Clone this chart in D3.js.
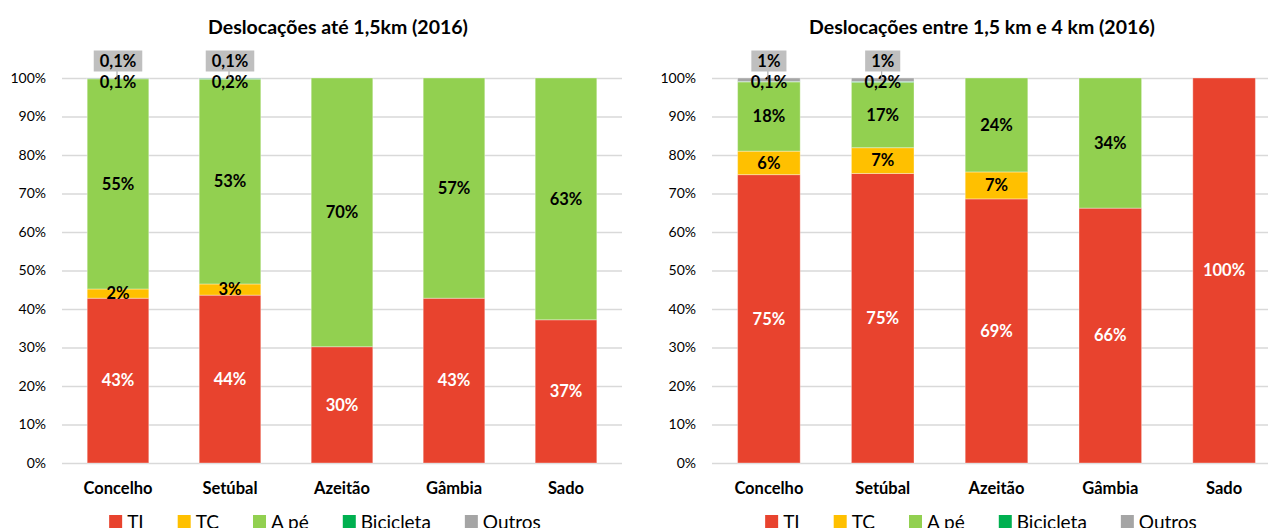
<!DOCTYPE html>
<meta charset="utf-8">
<head>
  <meta charset="utf-8">
  <script src="https://d3js.org/d3.v7.min.js"></script>
  <style>
    body { margin: 0; background: #fff; }
    svg text { font-family: Lato, "Open Sans", sans-serif; }
  </style>
</head>
<body>
  <svg width="1268" height="528"></svg>
  <script>
    // categories and series
    var categories = ["Concelho", "Setúbal", "Azeitão", "Gâmbia", "Sado"];
    var seriesNames = ["TI", "TC", "A pé", "Bicicleta", "Outros"];
    var seriesColors = ["#e8432e", "#ffc000", "#92d050", "#00b050", "#a5a5a5"];
    var yTicks = [0, 10, 20, 30, 40, 50, 60, 70, 80, 90, 100];

    // Deslocações até 1,5km (2016) - % of trips
    var ti1 = [42.8, 43.6, 30.2, 42.8, 37.2];
    var tc1 = [2.4, 2.9, 0, 0, 0];
    var ape1 = [54.6, 53.2, 69.8, 57.2, 62.8];
    var bic1 = [0.1, 0.2, 0, 0, 0];
    var outros1 = [0.1, 0.1, 0, 0, 0];

    // Deslocações entre 1,5 km e 4 km (2016)
    var ti2 = [74.9, 75.2, 68.6, 66.2, 100];
    var tc2 = [6.1, 6.7, 7.0, 0, 0];
    var ape2 = [18.0, 17.0, 24.4, 33.8, 0];
    var bic2 = [0.1, 0.2, 0, 0, 0];
    var outros2 = [0.9, 0.9, 0, 0, 0];

    var svg = d3.select("svg");

    function fmt(v) {
      if (v < 0.5) return d3.format(".1f")(v).replace(".", ",") + "%";
      return Math.round(v) + "%";
    }

    function drawChart(opts) {
      var x = d3.scaleBand().domain(categories)
        .range([opts.left, opts.right])
        .paddingInner(0.45).paddingOuter(0.225);
      var y = d3.scaleLinear().domain([0, 100]).range([463, 78]);
      var g = svg.append("g");

      // gridlines + y labels
      var yAxis = g.append("g")
        .attr("transform", "translate(" + opts.left + ",0)")
        .call(d3.axisLeft(y).tickValues(yTicks)
          .tickFormat(function(d) { return d + "%"; })
          .tickSize(-(opts.right - opts.left)).tickPadding(16));
      yAxis.select(".domain").remove();
      yAxis.selectAll("line").attr("stroke", "#d9d9d9").attr("stroke-width", 1.5);
      yAxis.selectAll("text").attr("fill", "#000").style("font-size", "14px")
        .style("font-family", "Lato, sans-serif");

      // stack data
      var rows = categories.map(function(c, i) {
        var r = { cat: c };
        opts.data.forEach(function(arr, k) { r[seriesNames[k]] = arr[i]; });
        return r;
      });
      var stacked = d3.stack().keys(seriesNames)(rows);

      stacked.forEach(function(layer, k) {
        g.append("g").selectAll("rect")
          .data(layer)
          .enter().append("rect")
          .attr("x", function(d) { return x(d.data.cat); })
          .attr("width", x.bandwidth())
          .attr("y", function(d) { return y(d[1]); })
          .attr("height", function(d) { return Math.max(0, y(d[0]) - y(d[1])); })
          .attr("fill", seriesColors[k])
          .attr("stroke", "rgba(255,255,255,0.35)")
          .attr("stroke-width", 1);
      });

      // labels
      stacked.forEach(function(layer, k) {
        layer.forEach(function(d) {
          var v = d[1] - d[0];
          if (v <= 0) return;
          var cx = x(d.data.cat) + x.bandwidth() / 2;
          var txt = fmt(v);
          if (k === 4) {
            // Outros: callout box above the bar
            var cy = y(100) - 17;
            var box = g.append("g");
            box.append("line")
              .attr("x1", cx - 1).attr("x2", cx - 1)
              .attr("y1", cy + 10).attr("y2", y(d[1]))
              .attr("stroke", "#a0a0a0").attr("stroke-width", 1);
            var bg = box.append("rect").attr("fill", "#bfbfbf");
            var t = box.append("text").attr("x", cx).attr("y", cy)
              .attr("text-anchor", "middle").attr("dy", "0.35em")
              .style("font-size", "16.5px").style("font-weight", "bold")
              .text(txt);
            var w = t.node().getComputedTextLength();
            bg.attr("x", cx - w / 2 - 6).attr("y", cy - 10.5)
              .attr("width", w + 12).attr("height", 21);
          } else {
            var cy2 = (y(d[0]) + y(d[1])) / 2;
            if (v < 1) cy2 = Math.max(cy2, y(100) + 4);
            g.append("text").attr("x", cx).attr("y", cy2)
              .attr("text-anchor", "middle").attr("dy", "0.35em")
              .style("font-size", "16.5px").style("font-weight", "bold")
              .attr("fill", k === 0 ? "#fff" : "#000")
              .text(txt);
          }
        });
      });

      // category labels
      g.selectAll(".cat").data(categories).enter().append("text")
        .attr("x", function(d) { return x(d) + x.bandwidth() / 2; })
        .attr("y", 494)
        .attr("text-anchor", "middle")
        .style("font-size", "16.5px").style("font-weight", "bold")
        .text(function(d) { return d; });

      // title
      g.append("text").attr("x", opts.titleX).attr("y", 34)
        .attr("text-anchor", "middle")
        .style("font-size", "19.5px").style("font-weight", "bold")
        .text(opts.title);

      // legend
      var lg = g.append("g");
      var pos = 0;
      seriesNames.forEach(function(s, k) {
        lg.append("rect").attr("x", pos).attr("y", 515)
          .attr("width", 13).attr("height", 13).attr("fill", seriesColors[k]);
        var t = lg.append("text").attr("x", pos + 18).attr("y", 529)
          .style("font-size", "19px").text(s);
        pos += 18 + t.node().getComputedTextLength() + 34;
      });
      var lw = pos - 34;
      lg.attr("transform", "translate(" + (opts.legendX - lw / 2) + ",0)");
    }

    drawChart({
      left: 62, right: 622, titleX: 338, legendX: 325,
      title: "Deslocações até 1,5km (2016)",
      data: [ti1, tc1, ape1, bic1, outros1]
    });
    drawChart({
      left: 712, right: 1281, titleX: 982, legendX: 981,
      title: "Deslocações entre 1,5 km e 4 km (2016)",
      data: [ti2, tc2, ape2, bic2, outros2]
    });
  </script>
</body>
</html>
